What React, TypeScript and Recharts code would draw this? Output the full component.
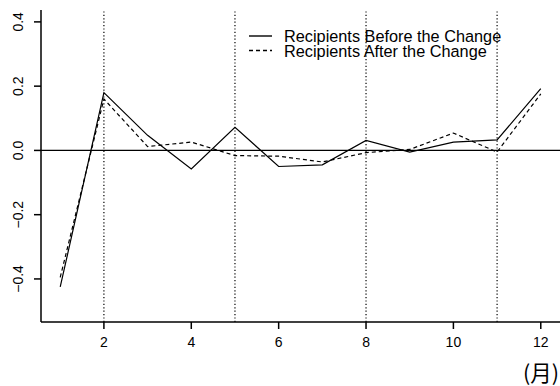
import React from 'react';
import { LineChart, Line, XAxis, YAxis, ReferenceLine } from 'recharts';

const months = [1, 2, 3, 4, 5, 6, 7, 8, 9, 10, 11, 12];
const beforeChange = [-0.425, 0.18, 0.047, -0.058, 0.072, -0.05, -0.045, 0.031, -0.005, 0.026, 0.033, 0.192];
const afterChange = [-0.395, 0.16, 0.012, 0.026, -0.016, -0.018, -0.036, -0.007, 0.003, 0.054, -0.005, 0.176];
const xTicks = [2, 4, 6, 8, 10, 12];
const yTicks = [-0.4, -0.2, 0, 0.2, 0.4];
const markerMonths = [2, 5, 8, 11];
const seriesNames = ['Recipients Before the Change', 'Recipients After the Change'];
const unitLabel = '(月)';

const data = months.map((m, i) => ({ month: m, before: beforeChange[i], after: afterChange[i] }));

const FONT = '"Liberation Sans", Arial, Helvetica, sans-serif';

const fmtY = (v: number) => (v < 0 ? '\u2212' : '') + Math.abs(v).toFixed(1);

const XTick = (props: any) => {
  const { x, y, payload } = props;
  return (
    <text x={x} y={y + 16} textAnchor="middle" fontSize={14} fontFamily={FONT} fill="#000">
      {payload.value}
    </text>
  );
};

const YTick = (props: any) => {
  const { y, payload } = props;
  return (
    <text
      x={23}
      y={y}
      textAnchor="middle"
      fontSize={14}
      fontFamily={FONT}
      fill="#000"
      transform={`rotate(-90, 23, ${y})`}
    >
      {fmtY(payload.value)}
    </text>
  );
};

const LegendOverlay = () => (
  <svg width={320} height={40} style={{ position: 'absolute', left: 240, top: 26, pointerEvents: 'none' }}>
    <line x1={9} x2={32} y1={10} y2={10} stroke="#000" strokeWidth={1.4} />
    <line x1={9} x2={32} y1={24.5} y2={24.5} stroke="#000" strokeWidth={1.4} strokeDasharray="4 3" />
    <text x={44} y={16} fontSize={16.3} fontFamily={FONT} fill="#000">{seriesNames[0]}</text>
    <text x={44} y={30.5} fontSize={16.3} fontFamily={FONT} fill="#000">{seriesNames[1]}</text>
  </svg>
);

const UnitLabel = () => (
  <text x={559} y={381} textAnchor="end" fontSize={21.5} fontFamily={'"Noto Sans CJK JP", "Liberation Sans", sans-serif'} fill="#000">
    {unitLabel}
  </text>
);

export default function App() {
  return (
    <div style={{ position: 'absolute', left: 0, top: 0, width: 560, height: 386, background: '#fff' }}>
      <LineChart width={560} height={386} data={data} margin={{ top: 10, right: 0, bottom: 34, left: 0 }}>
        <XAxis
          dataKey="month"
          type="number"
          domain={[0.56, 12.44]}
          ticks={xTicks}
          allowDataOverflow
          height={30}
          tickSize={7}
          axisLine={{ stroke: '#000', strokeWidth: 1.5 }}
          tickLine={{ stroke: '#000', strokeWidth: 1.5 }}
          tick={<XTick />}
          interval={0}
          label={<UnitLabel />}
        />
        <XAxis xAxisId="top" orientation="top" dataKey="month" type="number" domain={[0.56, 12.44]} height={0} tick={false} tickLine={false} axisLine={{ stroke: '#000', strokeWidth: 1.5 }} />
        <YAxis
          type="number"
          domain={[-0.534, 0.437]}
          ticks={yTicks}
          allowDataOverflow
          width={41}
          tickSize={7}
          axisLine={{ stroke: '#000', strokeWidth: 1.5 }}
          tickLine={{ stroke: '#000', strokeWidth: 1.5 }}
          tick={<YTick />}
          interval={0}
        />
        <YAxis yAxisId="right" orientation="right" width={0} domain={[-0.534, 0.437]} tick={false} tickLine={false} axisLine={{ stroke: '#000', strokeWidth: 1.5 }} />
        {markerMonths.map((m) => (
          <ReferenceLine key={m} x={m} stroke="#000" strokeWidth={1.2} strokeDasharray="1.2 2.2" />
        ))}
        <ReferenceLine y={0} stroke="#000" strokeWidth={1.2} />
        <Line type="linear" dataKey="before" name={seriesNames[0]} stroke="#000" strokeWidth={1.2} dot={false} isAnimationActive={false} />
        <Line type="linear" dataKey="after" name={seriesNames[1]} stroke="#000" strokeWidth={1.2} strokeDasharray="4 3" dot={false} isAnimationActive={false} />
      </LineChart>
      <LegendOverlay />
    </div>
  );
}
